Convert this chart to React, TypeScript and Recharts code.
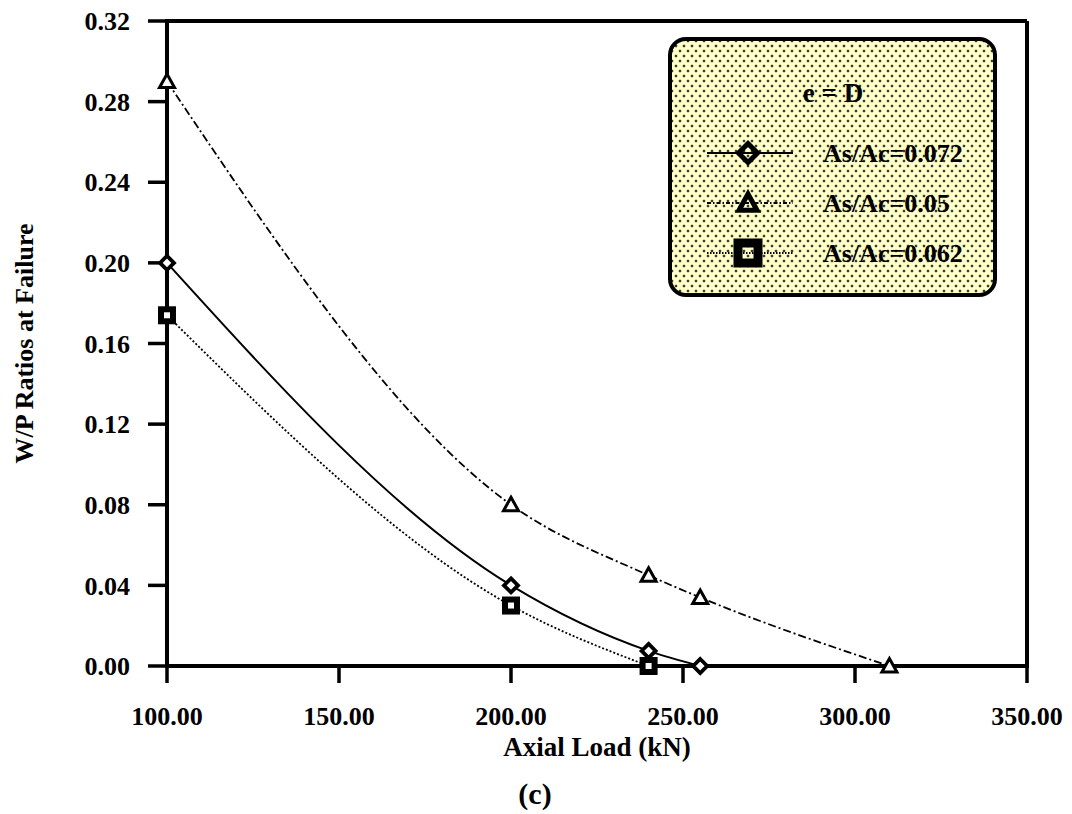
import React from 'react';
import { LineChart, Line, XAxis, YAxis, ReferenceLine } from 'recharts';

// axis ticks
const xTicks = [100, 150, 200, 250, 300, 350];
const yTicks = [0, 0.04, 0.08, 0.12, 0.16, 0.2, 0.24, 0.28, 0.32];

// As/Ac = 0.072 (diamonds, solid)
const loads072 = [100, 200, 240, 255];
const ratios072 = [0.2, 0.04, 0.0075, 0];

// As/Ac = 0.05 (triangles, dash-dot)
const loads05 = [100, 200, 240, 255, 310];
const ratios05 = [0.29, 0.08, 0.045, 0.034, 0];

// As/Ac = 0.062 (squares, dotted)
const loads062 = [100, 200, 240];
const ratios062 = [0.174, 0.03, 0];

const legendLabels = ['As/Ac=0.072', 'As/Ac=0.05', 'As/Ac=0.062'];

const zip = (xs: number[], ys: number[]) => xs.map((x, i) => ({ load: x, ratio: ys[i] }));

const FONT = "'Liberation Serif', 'Times New Roman', serif";

const diamond = (cx: number, cy: number, h: number, w: number, fill: string, key?: string) => (
  <path
    key={key}
    d={`M${cx},${cy - h} L${cx + h},${cy} L${cx},${cy + h} L${cx - h},${cy} Z`}
    fill={fill}
    stroke="#000"
    strokeWidth={w}
    strokeLinejoin="miter"
  />
);

const triangle = (cx: number, cy: number, s: number, w: number, fill: string, key?: string) => (
  <path
    key={key}
    d={`M${cx},${cy - s} L${cx + s},${cy + s * 0.8} L${cx - s},${cy + s * 0.8} Z`}
    fill={fill}
    stroke="#000"
    strokeWidth={w}
    strokeLinejoin="miter"
  />
);

const square = (cx: number, cy: number, s: number, w: number, fill: string, key?: string) => (
  <rect key={key} x={cx - s / 2} y={cy - s / 2} width={s} height={s} fill={fill} stroke="#000" strokeWidth={w} />
);

const DiamondDot = (p: any) => diamond(p.cx, p.cy, 7, 3.8, '#fff', `d-${p.index}`);
const TriangleDot = (p: any) => triangle(p.cx, p.cy, 7.5, 3, '#fff', `t-${p.index}`);
const SquareDot = (p: any) => square(p.cx, p.cy, 12, 6, '#fff', `s-${p.index}`);

const tickStyle = { fontSize: 26, fontWeight: 'bold' as const, fill: '#000', fontFamily: FONT };

const XTitle = ({ viewBox }: any) => {
  const cx = viewBox.x + viewBox.width / 2;
  return (
    <g>
      <text x={cx} y={viewBox.y + 90} textAnchor="middle" fontSize={27} fontWeight="bold" fontFamily={FONT} fill="#000">
        Axial Load (kN)
      </text>
      <text x={cx - 62} y={viewBox.y + 138} textAnchor="middle" fontSize={30} fontWeight="bold" fontFamily={FONT} fill="#000">
        (c)
      </text>
    </g>
  );
};

const YTitle = ({ viewBox }: any) => (
  <text
    transform={`translate(33, ${viewBox.y + viewBox.height / 2}) rotate(-90)`}
    textAnchor="middle"
    fontSize={26}
    fontWeight="bold"
    fontFamily={FONT}
    fill="#000"
  >
    W/P Ratios at Failure
  </text>
);

const LegendBox = () => {
  const rows = [
    { y: 112, dash: undefined, mark: (x: number, y: number) => diamond(x, y, 9.5, 5, 'none') },
    { y: 162, dash: '4 2 1.5 2', mark: (x: number, y: number) => triangle(x, y, 9, 5, 'none') },
    { y: 212, dash: '1.5 1.5', mark: (x: number, y: number) => square(x, y, 20, 9, 'none') },
  ];
  return (
    <div
      style={{
        position: 'absolute',
        left: 668,
        top: 37,
        width: 329,
        height: 260,
        boxSizing: 'border-box',
        border: '4px solid #000',
        borderRadius: 18,
        backgroundColor: '#ffffc8',
        backgroundImage:
          'radial-gradient(circle, #3a3a30 1.1px, transparent 1.7px), radial-gradient(circle, #3a3a30 1.1px, transparent 1.7px)',
        backgroundSize: '8px 10px',
        backgroundPosition: '0 0, 4px 5px',
      }}
    >
      <svg width={321} height={252} style={{ position: 'absolute', left: 0, top: 0 }}>
        <text x={161} y={61} textAnchor="middle" fontSize={27} fontWeight="bold" fontFamily={FONT} fill="#000">
          e = D
        </text>
        {rows.map((r, i) => (
          <g key={i}>
            <line x1={35} x2={121} y1={r.y} y2={r.y} stroke="#000" strokeWidth={2} strokeDasharray={r.dash} />
            {r.mark(76, r.y)}
            <text x={151} y={r.y + 9} fontSize={26} fontWeight="bold" fontFamily={FONT} fill="#000">
              {legendLabels[i]}
            </text>
          </g>
        ))}
      </svg>
    </div>
  );
};

export default function App() {
  return (
    <div style={{ position: 'relative', width: 1072, height: 814, background: '#fff' }}>
      <style>{'body{margin:0}'}</style>
      <LineChart width={1072} height={814} margin={{ top: 21, right: 45, bottom: 0, left: 0 }}>
        <XAxis
          dataKey="load"
          type="number"
          domain={[100, 350]}
          ticks={xTicks}
          tickFormatter={(v: number) => v.toFixed(2)}
          height={148}
          tickSize={17}
          tickMargin={24}
          tick={tickStyle}
          axisLine={{ stroke: '#000', strokeWidth: 4, strokeLinecap: 'square' }}
          tickLine={{ stroke: '#000', strokeWidth: 3.5 }}
          label={XTitle}
        />
        <YAxis
          type="number"
          domain={[0, 0.32]}
          ticks={yTicks}
          tickFormatter={(v: number) => v.toFixed(2)}
          width={167}
          tickSize={19}
          tickMargin={18}
          tick={tickStyle}
          axisLine={{ stroke: '#000', strokeWidth: 4, strokeLinecap: 'square' }}
          tickLine={{ stroke: '#000', strokeWidth: 3.5 }}
          label={YTitle}
        />
        <ReferenceLine y={0.32} stroke="#000" strokeWidth={4} />
        <ReferenceLine x={350} stroke="#000" strokeWidth={4} />
        <Line
          data={zip(loads05, ratios05)}
          dataKey="ratio"
          type="monotone"
          stroke="#000"
          strokeWidth={1.8}
          strokeDasharray="8 3 2 3"
          dot={TriangleDot}
          isAnimationActive={false}
        />
        <Line
          data={zip(loads062, ratios062)}
          dataKey="ratio"
          type="monotone"
          stroke="#000"
          strokeWidth={1.8}
          strokeDasharray="2 2"
          dot={SquareDot}
          isAnimationActive={false}
        />
        <Line
          data={zip(loads072, ratios072)}
          dataKey="ratio"
          type="monotone"
          stroke="#000"
          strokeWidth={2}
          dot={DiamondDot}
          isAnimationActive={false}
        />
      </LineChart>
      <LegendBox />
    </div>
  );
}
